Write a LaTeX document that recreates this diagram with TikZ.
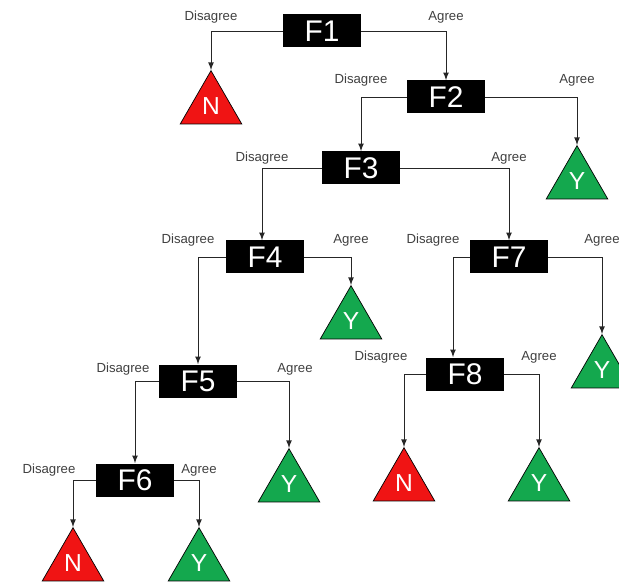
\documentclass[tikz,border=0pt]{standalone}
\usepackage{fontspec}
\setmainfont{Liberation Sans}
\usepackage{xcolor}
\usepackage{tikz}
\usetikzlibrary{shapes.geometric}
\usetikzlibrary{positioning}

\definecolor{leafgreen}{RGB}{20,168,78}
\definecolor{leafred}{RGB}{240,20,20}

\tikzset{
  feat/.style={fill=black, text=white, font=\fontsize{17}{17}\selectfont,
    minimum width=15.6mm, minimum height=6.6mm, inner sep=0pt},
  leaf/.style={regular polygon, regular polygon sides=3, draw=black, line width=0.4pt,
    minimum size=14.2mm, inner sep=0pt, text=white, font=\fontsize{14}{14}\selectfont,
    anchor=corner 1},
  leafy/.style={leaf, fill=leafgreen},
  leafn/.style={leaf, fill=leafred},
  arr/.style={-latex, draw=black!85, line width=0.5pt},
  lbl/.style={midway, above=3pt, font=\fontsize{7.5}{8}\selectfont, text=black!75, inner sep=1pt}
}

\begin{document}
\begin{tikzpicture}[x=0.2mm, y=-0.2mm]
  \useasboundingbox (0,0) rectangle (619,583);

  % Nodos de pregunta
  \node[feat] (f1) at (322,31) {F1};
  \node[feat] (f2) at (446,97) {F2};
  \node[feat] (f3) at (361,168) {F3};
  \node[feat] (f4) at (265,257) {F4};
  \node[feat] (f7) at (509,257) {F7};
  \node[feat] (f5) at (198,381) {F5};
  \node[feat] (f8) at (465,374) {F8};
  \node[feat] (f6) at (135,480) {F6};

  % Hojas (colocadas por el vertice de arriba)
  \node[leafn] (n1) at (211,70) {N};
  \node[leafy] (y2) at (577,145) {Y};
  \node[leafy] (y4) at (351,285) {Y};
  \node[leafy] (y7) at (602,334) {Y};
  \node[leafy] (y5) at (289,448) {Y};
  \node[leafn] (n8) at (404,447) {N};
  \node[leafy] (y8) at (539,447) {Y};
  \node[leafn] (n6) at (73,527) {N};
  \node[leafy] (y6) at (199,527) {Y};

  % Conexiones
  \draw[arr] (f1.west) -| node[lbl] {Disagree} (n1.corner 1);
  \draw[arr] (f1.east) -| node[lbl] {Agree} (f2.north);
  \draw[arr] (f2.west) -| node[lbl, above=5pt] {Disagree} (f3.north);
  \draw[arr] (f2.east) -| node[lbl, above=5pt] {Agree} (y2.corner 1);
  \draw[arr] (f3.west) -| node[lbl, above=1pt] {Disagree} ([xshift=-0.6mm]f4.north);
  \draw[arr] (f3.east) -| node[lbl, above=1pt] {Agree} (f7.north);
  \draw[arr] (f4.west) -| node[lbl, above=5pt, xshift=-2mm] {Disagree} (f5.north);
  \draw[arr] (f4.east) -| node[lbl, above=5pt] {Agree} (y4.corner 1);
  \draw[arr] (f7.west) -| node[lbl, above=5pt, xshift=-4mm] {Disagree} ([xshift=-2.4mm]f8.north);
  \draw[arr] (f7.east) -| node[lbl, above=5pt] {Agree} (y7.corner 1);
  \draw[arr] (f5.west) -| node[lbl, above=2pt, xshift=-2.4mm] {Disagree} (f6.north);
  \draw[arr] (f5.east) -| node[lbl, above=2pt, xshift=1.2mm] {Agree} (y5.corner 1);
  \draw[arr] (f8.west) -| node[lbl, above=5pt, xshift=-4.6mm] {Disagree} (n8.corner 1);
  \draw[arr] (f8.east) -| node[lbl, above=5pt] {Agree} (y8.corner 1);
  \draw[arr] (f6.west) -| node[lbl, above=1pt, xshift=-4.8mm] {Disagree} (n6.corner 1);
  \draw[arr] (f6.east) -| node[lbl, above=1pt] {Agree} (y6.corner 1);
\end{tikzpicture}
\end{document}
